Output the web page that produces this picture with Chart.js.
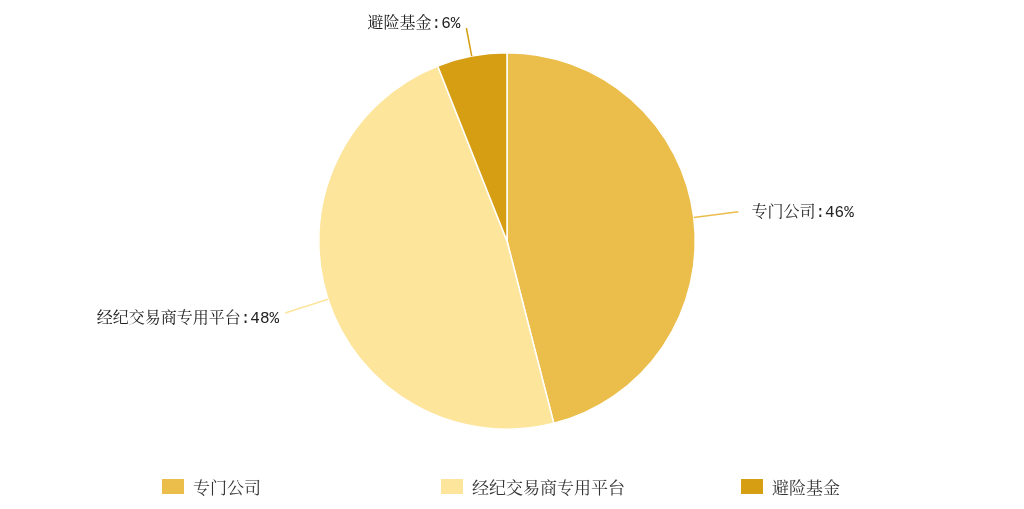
<!DOCTYPE html>
<html>
<head>
<meta charset="utf-8">
<script src="https://cdn.jsdelivr.net/npm/chart.js@4/dist/chart.umd.min.js"></script>
<style>
  html, body { margin: 0; padding: 0; background: #fff; }
  #wrap { position: relative; width: 1024px; height: 509px; }
  #legend { position: absolute; left: 0; top: 477px; width: 1024px; height: 20px; }
  .item { position: absolute; top: 0; display: flex; align-items: center; height: 18px;
          font: 17px "Liberation Serif", "Noto Serif CJK SC", "Noto Sans CJK SC", serif; color: #333; }
  .box { width: 22px; height: 15px; margin-right: 9px; }
</style>
</head>
<body>
<div id="wrap">
  <canvas id="chart" width="1024" height="509"></canvas>
  <div id="legend"></div>
</div>
<script>
// ── Data ─────────────────────────────────────────────────────────────────────
const LABELS = ['专门公司', '经纪交易商专用平台', '避险基金'];
const VALUES = [46, 48, 6];
const COLORS = ['#ebbe4c', '#fde59b', '#d59e13'];

const LABEL_FONT = '16px "Liberation Mono", "Noto Serif CJK SC", "Noto Sans CJK SC", monospace';
const LEGEND_X = [162, 441, 741];

// ── Outside labels with leader lines ─────────────────────────────────────────
const outsideLabels = {
  id: 'outsideLabels',
  afterDatasetsDraw(chart) {
    const ctx = chart.ctx;
    const meta = chart.getDatasetMeta(0);
    const total = VALUES.reduce((a, b) => a + b, 0);
    ctx.save();
    ctx.font = LABEL_FONT;
    ctx.textBaseline = 'middle';
    meta.data.forEach((arc, i) => {
      const { x, y, startAngle, endAngle, outerRadius } = arc.getProps(['x', 'y', 'startAngle', 'endAngle', 'outerRadius'], true);
      const mid = (startAngle + endAngle) / 2;
      const cx = Math.cos(mid), cy = Math.sin(mid);
      const x0 = x + cx * outerRadius, y0 = y + cy * outerRadius;
      let len = 45;
      // keep the label inside the top of the canvas
      if (y + cy * (outerRadius + len) < 28) len = (28 - y) / cy - outerRadius;
      const x1 = x + cx * (outerRadius + len), y1 = y + cy * (outerRadius + len);
      ctx.strokeStyle = COLORS[i];
      ctx.lineWidth = 1.5;
      ctx.beginPath(); ctx.moveTo(x0, y0); ctx.lineTo(x1, y1); ctx.stroke();
      const pct = Math.round(VALUES[i] / total * 100);
      const text = LABELS[i] + ':' + pct + '%';
      ctx.fillStyle = '#222';
      if (cx >= 0) { ctx.textAlign = 'left';  ctx.fillText(text, x1 + 13, y1 + 1); }
      else         { ctx.textAlign = 'right'; ctx.fillText(text, x1 - 6, y1 + (cy > 0 ? 6 : -4)); }
    });
    ctx.restore();
  }
};

const chart = new Chart(document.getElementById('chart').getContext('2d'), {
  type: 'pie',
  data: {
    labels: LABELS,
    datasets: [{
      data: VALUES,
      backgroundColor: COLORS,
      borderColor: '#ffffff',
      borderWidth: 1.5,
    }],
  },
  options: {
    responsive: false, animation: false,
    layout: { padding: { top: 52, bottom: 79, left: 0, right: 10 } },
    plugins: {
      legend: { display: false },
      tooltip: { enabled: false },
    },
  },
  plugins: [outsideLabels],
});

// ── HTML legend ──────────────────────────────────────────────────────────────
const legend = document.getElementById('legend');
LABELS.forEach((name, i) => {
  const item = document.createElement('div');
  item.className = 'item';
  item.style.left = LEGEND_X[i] + 'px';
  item.innerHTML = `<span class="box" style="background:${COLORS[i]}"></span><span>${name}</span>`;
  legend.appendChild(item);
});
</script>
</body>
</html>
